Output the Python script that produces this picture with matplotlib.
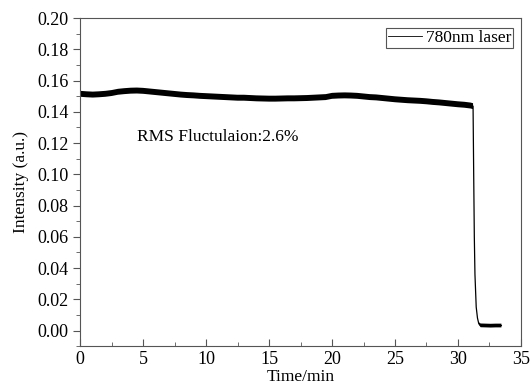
import matplotlib
matplotlib.use("Agg")
from matplotlib import pyplot as plt
from matplotlib.ticker import MultipleLocator
import numpy as np

# time (min) and intensity (a.u.)
time_min = [0, 0.5, 1, 1.5, 2, 2.5, 3, 3.5, 4, 4.5, 5, 5.5, 6, 6.5, 7, 7.5, 8, 8.5, 9, 9.5,
            10, 10.5, 11, 11.5, 12, 12.5, 13, 13.5, 14, 14.5, 15, 15.5, 16, 16.5, 17, 17.5,
            18, 18.5, 19, 19.5, 20, 20.5, 21, 21.5, 22, 22.5, 23, 23.5, 24, 24.5, 25, 25.5,
            26, 26.5, 27, 27.5, 28, 28.5, 29, 29.5, 30, 30.5, 31, 31.2,
            31.25, 31.3, 31.35, 31.45, 31.55, 31.65, 31.8, 32.2, 32.6, 33.0, 33.45]
intensity = [0.1515, 0.1512, 0.1510, 0.1512, 0.1515, 0.1520, 0.1528, 0.1532, 0.1535, 0.1536,
             0.1534, 0.1530, 0.1526, 0.1522, 0.1518, 0.1514, 0.1510, 0.1507, 0.1505, 0.1502,
             0.1500, 0.1498, 0.1496, 0.1494, 0.1492, 0.1490, 0.1490, 0.1488, 0.1486, 0.1485,
             0.1484, 0.1484, 0.1485, 0.1486, 0.1486, 0.1487, 0.1488, 0.1490, 0.1492, 0.1494,
             0.1502, 0.1504, 0.1505, 0.1504, 0.1502, 0.1498, 0.1494, 0.1492, 0.1488, 0.1484,
             0.1480, 0.1477, 0.1474, 0.1472, 0.1470, 0.1467, 0.1463, 0.1460, 0.1456, 0.1452,
             0.1448, 0.1445, 0.1440, 0.1436,
             0.1000, 0.0600, 0.0360, 0.0150, 0.0080, 0.0045, 0.0033, 0.0032, 0.0031, 0.0032, 0.0032]
# half width of the noise band around the centre line
band = [0.0019] * 64 + [0, 0, 0, 0, 0, 0.0008, 0.0012, 0.0012, 0.0012, 0.0012, 0.0012]

t = np.array(time_min)
y = np.array(intensity)
b = np.array(band)

plt.rcParams['font.family'] = ['Liberation Serif', 'DejaVu Serif']
plt.rcParams['font.size'] = 12.5

fig = plt.figure(figsize=(5.31, 3.92), dpi=100)
ax = fig.add_axes([0.151, 0.117, 0.830, 0.837])

ax.plot(t, y, color='black', lw=0.9, label='780nm laser')
ax.fill_between(t, y - b, y + b, color='black', lw=0, where=b > 0)

ax.set_xlim(0, 35)
ax.set_ylim(-0.01, 0.20)
ax.xaxis.set_major_locator(MultipleLocator(5))
ax.xaxis.set_minor_locator(MultipleLocator(2.5))
ax.yaxis.set_major_locator(MultipleLocator(0.02))
ax.yaxis.set_minor_locator(MultipleLocator(0.01))
ax.yaxis.set_major_formatter(matplotlib.ticker.FormatStrFormatter('%.2f'))
ax.tick_params(axis='x', which='both', direction='in', color='#555555')
ax.tick_params(axis='y', which='both', direction='out', color='#555555')
ax.tick_params(which='major', length=5, labelsize=13)
ax.tick_params(which='minor', length=3)
for s in ax.spines.values():
    s.set_color('#555555')

ax.set_xlabel('Time/min', labelpad=1)
ax.set_ylabel('Intensity (a.u.)', labelpad=6)
ax.text(4.5, 0.124, 'RMS Fluctulaion:2.6%', va='center')

leg = ax.legend(loc='upper right', fancybox=False, edgecolor='#555555', framealpha=1,
                handlelength=2.0, borderpad=0.1, handletextpad=0.2, borderaxespad=0,
                bbox_to_anchor=(0.982, 0.97))
leg.get_frame().set_linewidth(0.8)
leg.get_lines()[0].set_linewidth(0.6)

fig.savefig('out.png', dpi=100)
